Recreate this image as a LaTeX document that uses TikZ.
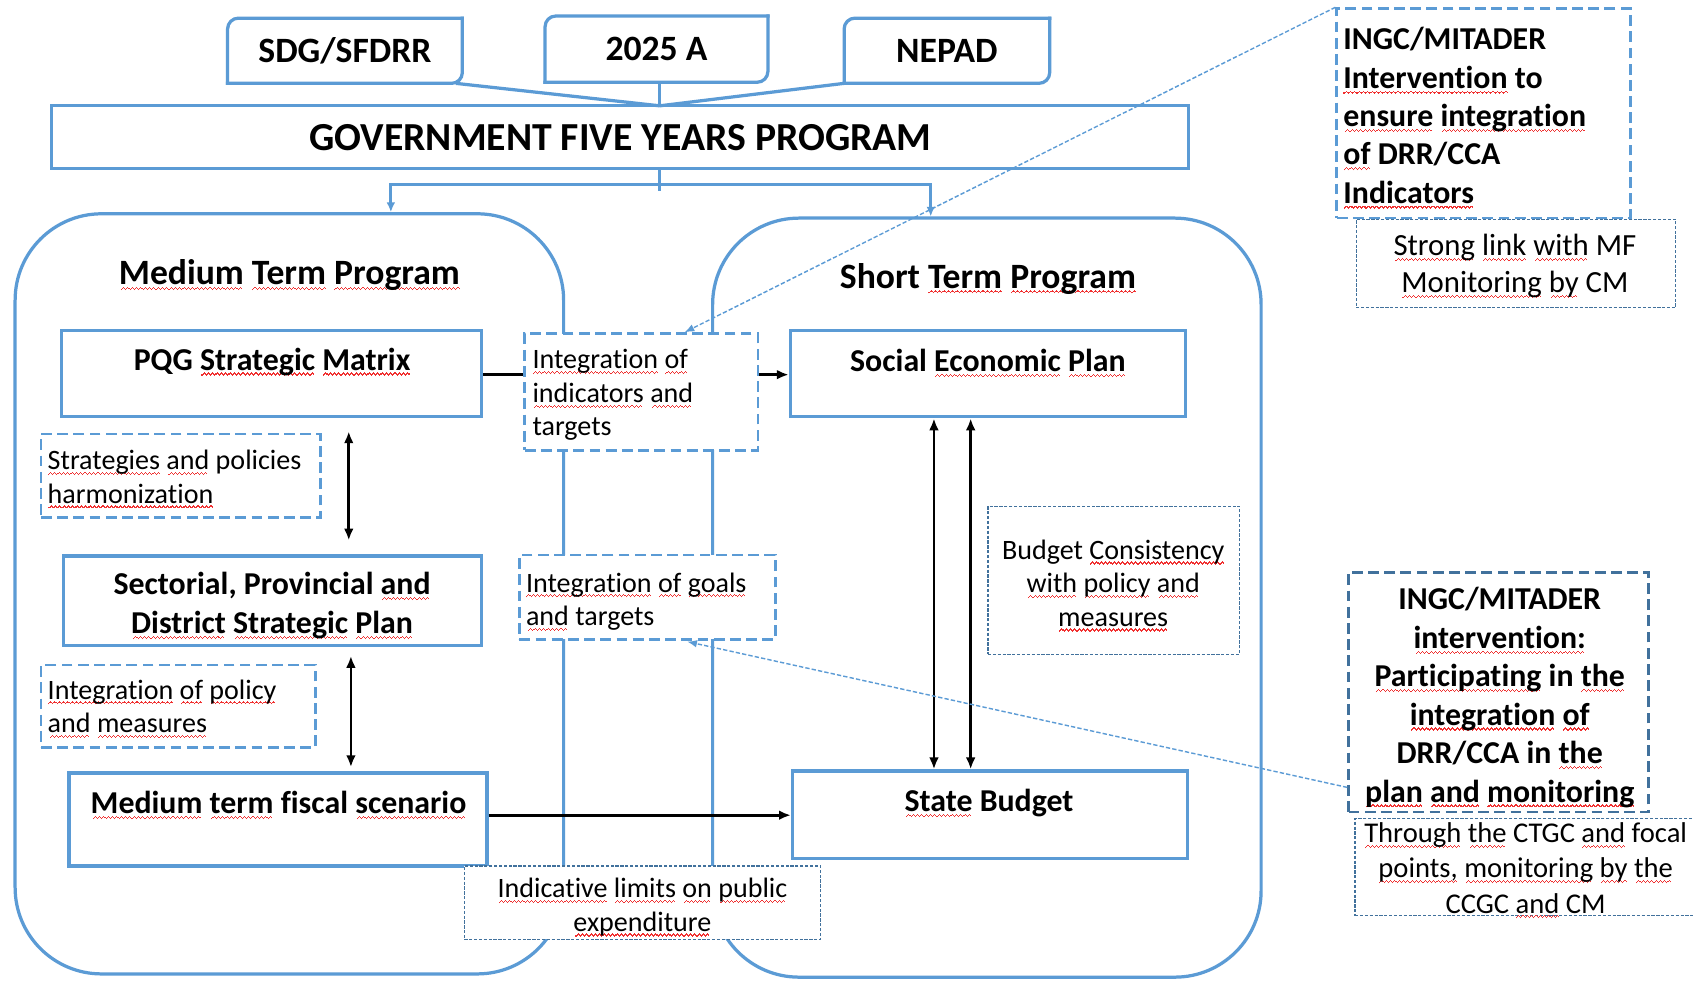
\documentclass[tikz,border=0pt]{standalone}
\usepackage{fontspec}
\setmainfont{Carlito}[Ligatures=NoCommon]
\usetikzlibrary{arrows.meta,calc}
\definecolor{boxblue}{HTML}{5B9BD5}
\definecolor{darkblue}{HTML}{41719C}
\definecolor{wavered}{HTML}{F03030}
\newcommand\fsz[2]{\fontsize{#1}{#2}\selectfont}
\newsavebox\sqbox
\newcommand\wavebit{\hbox{\rule[0pt]{1pt}{1.1pt}\rule[0.9pt]{1pt}{1.1pt}\rule[1.8pt]{1pt}{1.1pt}\rule[0.9pt]{1pt}{1.1pt}}}
\newcommand\sq[1]{\sbox\sqbox{#1}\rlap{\smash{\textcolor{wavered}{\lower5pt\hbox to\wd\sqbox{\cleaders\wavebit\hfill}}}}\usebox\sqbox}
\newcommand\diagborder[1]{%
  \draw[bluelink, rounded corners=10pt, line cap=rect] (#1.south west) -- (#1.north west) -- (#1.north east);
  \draw[bluelink, rounded corners=10pt, line cap=rect] (#1.north east) -- (#1.south east) -- (#1.south west);}
\tikzset{
  bluelink/.style={draw=boxblue, line width=3pt},
  container/.style={draw=boxblue, line width=3pt, rounded corners=80pt, inner sep=0pt},
  topbox/.style={inner sep=0pt, font=\fsz{33}{40}\bfseries},
  bluebox/.style={draw=boxblue, line width=3pt, fill=white, inner sep=0pt},
  dashbox/.style={draw=boxblue, line width=2.5pt, dash pattern=on 10pt off 5pt, fill=white, inner sep=0pt},
  darkdash/.style={draw=darkblue, line width=2.5pt, dash pattern=on 10pt off 5pt, fill=white, inner sep=0pt},
  thindash/.style={draw=darkblue, line width=1.1pt, dash pattern=on 3pt off 1.5pt, fill=white, inner sep=0pt},
  bluearrow/.style={bluelink, -{Latex[length=9pt,width=8pt]}},
  blackarrow/.style={draw=black, line width=2.5pt, -{Latex[length=11pt,width=9pt]}},
  blackdouble/.style={draw=black, line width=2.5pt, {Latex[length=11pt,width=9pt]}-{Latex[length=11pt,width=9pt]}},
  pointer/.style={draw=boxblue, line width=1.3pt, dash pattern=on 4pt off 2pt, -{Latex[length=9pt,width=7pt]}},
  bigtitle/.style={inner sep=0pt, font=\fsz{33}{40}\bfseries},
  boldtxt/.style={inner sep=0pt, align=center, font=\fsz{29.5}{36}\bfseries},
  regtxt/.style={inner sep=0pt, font=\fsz{26}{31}},
}
\begin{document}
\begin{tikzpicture}[x=1pt,y=-1pt]
\useasboundingbox[fill=white] (0,0) rectangle (1568,908);

% containers
\node[container, minimum width=508pt, minimum height=704pt] (mtp) at (268,550) {};
\node[container, minimum width=508pt, minimum height=703pt] (stp) at (914,553.5) {};
\node[bigtitle] (tmtp) at (268,255) {\sq{Medium} \sq{Term} \sq{Program}};
\node[bigtitle] (tstp) at (915,258) {Short \sq{Term} \sq{Program}};

% top boxes
\node[topbox, minimum width=217pt, minimum height=60pt] (sdg) at (319.5,47) {SDG/SFDRR};
\node[topbox, minimum width=206pt, minimum height=61pt] (y25) at (608,45.5) {2025 A};
\node[topbox, minimum width=190pt, minimum height=60pt] (nepad) at (877,47) {NEPAD};
\diagborder{sdg}
\diagborder{y25}
\diagborder{nepad}

\node[bluebox, minimum width=1053pt, minimum height=58pt, font=\fsz{36.8}{44}\bfseries] (gov) at (574.5,127) {GOVERNMENT FIVE YEARS PROGRAM};

\coordinate (j) at (611,98);
\draw[bluelink] ($(sdg.south east)+(-6,0)$) -- (j);
\draw[bluelink] (j |- y25.south) -- (j);
\draw[bluelink] (nepad.south west) -- (j);

\coordinate (k) at (611,171);
\draw[bluelink] (k |- gov.south) -- ($(k)+(0,6)$);
\draw[bluearrow] (k) -| ($(mtp.north)+(94,0)$);
\draw[bluearrow] (k) -| ($(stp.north)+(-52,0)$);

% solid boxes
\node[bluebox, minimum width=389pt, minimum height=80pt] (pqg) at (251.5,346) {};
\node[bluebox, minimum width=387pt, minimum height=83pt] (sect) at (252.5,556.5) {};
\node[bluebox, minimum width=387pt, minimum height=86pt] (fisc) at (257.5,759) {};
\node[bluebox, minimum width=366pt, minimum height=80pt] (sep) at (915,346) {};
\node[bluebox, minimum width=366pt, minimum height=81pt] (sb) at (917,754.5) {};

% black arrows
\draw[blackarrow] ($(pqg.east)+(0,1)$) -- ($(sep.west)+(0,1)$);
\draw[blackarrow] ($(fisc.east)+(0,-4)$) -- ($(fisc.east -| sb.west)+(0,-4)$);
\draw[blackdouble] ($(pqg.south)+(71.5,12)$) -- ($(sect.north)+(70.5,-13)$);
\draw[blackdouble] ($(sect.south)+(72.5,8)$) -- ($(fisc.north)+(67.5,-4)$);
\draw[blackdouble] ($(sep.south)+(-50,0)$) -- ($(sb.north)+(-52,0)$);
\draw[blackdouble] ($(sep.south)+(-16,0)$) -- ($(sb.north)+(-18,0)$);

% box texts
\node[boldtxt] (tpqg) at (252,335) {PQG \sq{Strategic} \sq{Matrix}};
\node[boldtxt] (tsect) at (252,561) {Sectorial, Provincial \sq{and}\\\sq{District} \sq{Strategic} \sq{Plan}};
\node[boldtxt] (tfisc) at (258,743.5) {\sq{Medium} \sq{term} fiscal \sq{scenario}};
\node[boldtxt] (tsep) at (915,334) {Social \sq{Economic} \sq{Plan}};
\node[boldtxt] (tsb) at (916,744) {\sq{State} Budget};

% dashed boxes
\node[dashbox, minimum width=216pt, minimum height=108pt] (iit) at (594,363) {};
\node[regtxt, align=left, anchor=west] (tiit) at (493,366) {\sq{Integration} \sq{of}\\\sq{indicators} \sq{and}\\targets};
\node[dashbox, minimum width=259pt, minimum height=77pt] (sph) at (167.5,440.5) {};
\node[regtxt, align=left, anchor=west] (tsph) at (44,441.5) {\sq{Strategies} \sq{and} policies\\\sq{harmonization}};
\node[dashbox, minimum width=237pt, minimum height=78pt] (igt) at (599.5,553) {};
\node[regtxt, align=left, anchor=west] (tigt) at (487,557) {\sq{Integration} \sq{of} \sq{goals}\\\sq{and} targets};
\node[dashbox, minimum width=254pt, minimum height=76pt] (ipm) at (165,654) {};
\node[regtxt, align=left, anchor=west] (tipm) at (44,654) {\sq{Integration} \sq{of} \sq{policy}\\\sq{and} \sq{measures}};

% thin dashed boxes
\node[thindash, minimum width=330pt, minimum height=68pt] (ilp) at (595,836) {};
\node[regtxt, align=center] (tilp) at (595,840) {\sq{Indicative} \sq{limits} \sq{on} \sq{public}\\\sq{expenditure}};
\node[thindash, minimum width=233pt, minimum height=137pt] (bc) at (1031.5,537.5) {};
\node[regtxt, align=center] (tbc) at (1031,540) {Budget \sq{Consistency}\\\sq{with} \sq{policy} \sq{and}\\\sq{measures}};
\node[thindash, minimum width=296pt, minimum height=82pt] (slm) at (1404,244) {};
\node[regtxt, align=center, font=\fsz{28.5}{34}] (tslm) at (1403,246.5) {\sq{Strong} \sq{link} \sq{with} MF\\\sq{Monitoring} \sq{by} CM};
\node[thindash, minimum width=345pt, minimum height=90pt] (ctgc) at (1427.5,803) {};
\node[regtxt, align=center, font=\fsz{26.5}{32.5}] (tctgc) at (1413,804) {\sq{Through} \sq{the} CTGC \sq{and} focal\\\sq{points,} \sq{monitoring} \sq{by} \sq{the}\\CCGC \sq{and} CM};

% INGC boxes
\node[dashbox, minimum width=272pt, minimum height=194pt] (ingc1) at (1374,105) {};
\node[boldtxt, align=left, anchor=west, font=\fsz{29.5}{35.5}\bfseries] (tingc1) at (1244,107) {INGC/MITADER\\\sq{Intervention} to\\\sq{ensure} \sq{integration}\\\sq{of} DRR/CCA\\\sq{Indicators}};
\node[darkdash, minimum width=278pt, minimum height=222pt] (ingc2) at (1388,641) {};
\node[boldtxt, font=\fsz{29.5}{35.6}\bfseries] (tingc2) at (1389,646) {INGC/MITADER\\\sq{intervention:}\\\sq{Participating} in \sq{the}\\\sq{integration} \sq{of}\\DRR/CCA in \sq{the}\\\sq{plan} \sq{and} \sq{monitoring}};

% pointers
\draw[pointer] (ingc1.north west) -- ($(iit.north)+(40,0)$);
\draw[pointer] ($(ingc2.south west)+(0,-24)$) -- ($(igt.south)+(37,1)$);
\end{tikzpicture}
\end{document}
